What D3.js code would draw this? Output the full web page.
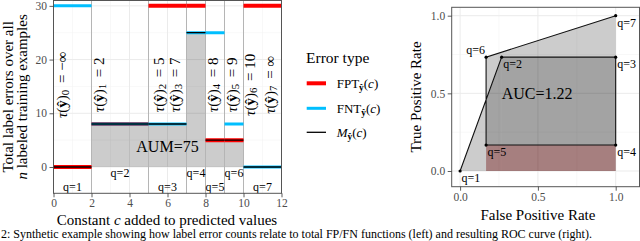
<!DOCTYPE html>
<html>
<head>
<meta charset="utf-8">
<script src="https://cdn.jsdelivr.net/npm/d3@7"></script>
<style>
  body { margin: 0; background: #fff; }
  svg { display: block; font-family: "Liberation Serif", "DejaVu Serif", serif; }
</style>
</head>
<body>
<svg id="chart" width="640" height="241"></svg>
<script>
// left panel: total label errors vs constant c
var intervalStart = [0, 2, 5, 7, 8, 9, 10];
var intervalEnd = [2, 5, 7, 8, 9, 10, 12];
var fptValues = [0, 8, 30, 30, 5, 5, 30];
var fntValues = [30, 8, 8, 25, 25, 8, 0];
var minValues = [0, 8, 8, 25, 5, 5, 0];
var qNames = ['q=1', 'q=2', 'q=3', 'q=4', 'q=5', 'q=6', 'q=7'];
var qLabelLevel = [-3.8, -1.2, -3.8, -1.2, -3.8, -1.2, -3.8];
var thresholds = [2, 5, 7, 8, 9, 10];
var tauValues = ['\u2212\u221e', '2', '5', '7', '8', '9', '10', '\u221e'];
var tauLabelX = [0.45, 2.4, 5.55, 6.4, 8.4, 9.4, 10.35, 11.4];
var tauLabelY = 15.3;
var leftYTicks = [0, 10, 20, 30];
var leftXTicks = [0, 2, 4, 6, 8, 10, 12];
var aumText = 'AUM=75';

// right panel: ROC curve
var fprValues = [0, 0.267, 1, 1, 0.167, 0.167, 1];
var tprValues = [0, 0.733, 0.733, 0.167, 0.167, 0.733, 1];
var rocTicks = [0, 0.5, 1];
var aucText = 'AUC=1.22';

var legendItems = [
    {name: 'FPT', color: '#ff0000', width: 4},
    {name: 'FNT', color: '#00bfff', width: 3},
    {name: 'M', color: '#000000', width: 1.3}
];

var SERIF = '"Liberation Serif", "DejaVu Serif", serif';

var Layout = {
    left: {x0: 53.5, x1: 281.5, y0: 0.5, y1: 193.3},
    right: {x0: 451.7, x1: 639.5, y0: 7.3, y1: 186.7}
};

var svg = d3.select('#chart');
var defs = svg.append('defs');

function addClip(id, box) {
    defs.append('clipPath').attr('id', id)
        .append('rect')
        .attr('x', box.x0).attr('y', box.y0)
        .attr('width', box.x1 - box.x0).attr('height', box.y1 - box.y0);
}
addClip('clip-left', Layout.left);
addClip('clip-right', Layout.right);

function drawGrid(g, box, x, y, xMajor, xMinor, yMajor, yMinor) {
    g.selectAll('.gx-minor').data(xMinor).enter().append('line')
        .attr('x1', x).attr('x2', x).attr('y1', box.y0).attr('y2', box.y1)
        .attr('stroke', '#f4f4f4').attr('stroke-width', 0.6);
    g.selectAll('.gy-minor').data(yMinor).enter().append('line')
        .attr('y1', y).attr('y2', y).attr('x1', box.x0).attr('x2', box.x1)
        .attr('stroke', '#f4f4f4').attr('stroke-width', 0.6);
    g.selectAll('.gx-major').data(xMajor).enter().append('line')
        .attr('x1', x).attr('x2', x).attr('y1', box.y0).attr('y2', box.y1)
        .attr('stroke', '#ebebeb').attr('stroke-width', 1);
    g.selectAll('.gy-major').data(yMajor).enter().append('line')
        .attr('y1', y).attr('y2', y).attr('x1', box.x0).attr('x2', box.x1)
        .attr('stroke', '#ebebeb').attr('stroke-width', 1);
}

function styleAxis(g) {
    g.attr('font-family', SERIF).attr('font-size', 11.5);
    g.select('.domain').remove();
    g.selectAll('.tick line').attr('stroke', '#333').attr('stroke-width', 0.8);
    g.selectAll('.tick text').attr('fill', '#4d4d4d')
        .style('font-family', SERIF)
        .style('font-size', '11.5px');
}

function drawBorder(box) {
    svg.append('rect')
        .attr('x', box.x0).attr('y', box.y0)
        .attr('width', box.x1 - box.x0).attr('height', box.y1 - box.y0)
        .attr('fill', 'none').attr('stroke', '#555').attr('stroke-width', 1);
}

// subscript with bold y-hat, e.g. FPT_yhat(c)
function addHatSub(text, sub) {
    text.append('tspan').attr('font-weight', 'bold').attr('font-size', '72%')
        .attr('dy', 3).text(sub);
}

// ---------- left panel ----------
var L = Layout.left;
var xL = d3.scaleLinear().domain([0, 12]).range([L.x0, L.x1]);
var yL = d3.scaleLinear().domain([-4.9, 31.0]).range([L.y1, L.y0]);

var gl = svg.append('g').attr('clip-path', 'url(#clip-left)');
drawGrid(gl, L, xL, yL, leftXTicks, [1, 3, 5, 7, 9, 11], leftYTicks, [5, 15, 25]);

// shaded area under the min function between first and last threshold
var aumPoints = [];
for (var i = 1; i < intervalStart.length - 1; i++) {
    aumPoints.push([intervalStart[i], minValues[i]]);
    aumPoints.push([intervalEnd[i], minValues[i]]);
}
gl.append('path')
    .datum(aumPoints)
    .attr('d', d3.area().x(d => xL(d[0])).y0(yL(0)).y1(d => yL(d[1])))
    .attr('fill', '#000').attr('fill-opacity', 0.2);

gl.selectAll('.threshold').data(thresholds).enter().append('line')
    .attr('x1', xL).attr('x2', xL).attr('y1', L.y0).attr('y2', L.y1)
    .attr('stroke', '#b5b5b5').attr('stroke-width', 1);

function drawSteps(values, color, width) {
    gl.append('g').selectAll('line').data(values).enter().append('line')
        .attr('x1', (d, i) => xL(intervalStart[i]))
        .attr('x2', (d, i) => xL(intervalEnd[i]))
        .attr('y1', d => yL(d)).attr('y2', d => yL(d))
        .attr('stroke', color).attr('stroke-width', width);
}
drawSteps(fptValues, legendItems[0].color, legendItems[0].width);
drawSteps(fntValues, legendItems[1].color, legendItems[1].width);
drawSteps(minValues, legendItems[2].color, legendItems[2].width);

gl.selectAll('.tau').data(tauValues).enter().append('text')
    .attr('transform', (d, i) => 'translate(' + xL(tauLabelX[i]) + ',' + yL(tauLabelY) + ') rotate(-90)')
    .attr('text-anchor', 'middle')
    .attr('dominant-baseline', 'central')
    .style('font-size', '15px')
    .each(function (d, i) {
        var t = d3.select(this);
        t.append('tspan').attr('font-style', 'italic').text('\u03c4');
        t.append('tspan').text('(');
        t.append('tspan').attr('font-weight', 'bold').text('\u0177');
        t.append('tspan').text(')');
        t.append('tspan').attr('font-size', '72%').attr('dy', 3).text(i);
        t.append('tspan').attr('dy', -3).text(' \u2009= ' + d);
    });

gl.selectAll('.qlab').data(qNames).enter().append('text')
    .attr('x', (d, i) => xL((intervalStart[i] + intervalEnd[i]) / 2))
    .attr('y', (d, i) => yL(qLabelLevel[i]))
    .attr('text-anchor', 'middle')
    .attr('dominant-baseline', 'central')
    .style('font-size', '12px')
    .text(d => d);

gl.append('text')
    .attr('x', xL(6)).attr('y', yL(3.9))
    .attr('text-anchor', 'middle').attr('dominant-baseline', 'central')
    .style('font-size', '16px')
    .text(aumText);

drawBorder(L);

svg.append('g').attr('transform', 'translate(' + L.x0 + ',0)')
    .call(d3.axisLeft(yL).tickValues(leftYTicks).tickSize(4).tickPadding(2.5))
    .call(styleAxis);
svg.append('g').attr('transform', 'translate(0,' + L.y1 + ')')
    .call(d3.axisBottom(xL).tickValues(leftXTicks).tickSize(4).tickPadding(2))
    .call(styleAxis);

var xTitle = svg.append('text')
    .attr('x', (L.x0 + L.x1) / 2 - 0.5).attr('y', 224.5)
    .attr('text-anchor', 'middle').style('font-size', '15px');
xTitle.append('tspan').text('Constant ');
xTitle.append('tspan').attr('font-style', 'italic').text('c');
xTitle.append('tspan').text(' added to predicted values');

svg.append('text')
    .attr('transform', 'translate(13,' + ((L.y0 + L.y1) / 2) + ') rotate(-90)')
    .attr('text-anchor', 'middle').style('font-size', '15px')
    .text('Total label errors over all');
var yTitle2 = svg.append('text')
    .attr('transform', 'translate(26.5,' + ((L.y0 + L.y1) / 2) + ') rotate(-90)')
    .attr('text-anchor', 'middle').style('font-size', '15px');
yTitle2.append('tspan').attr('font-style', 'italic').text('n');
yTitle2.append('tspan').text(' labeled training examples');

// ---------- legend ----------
var legend = svg.append('g').attr('transform', 'translate(306,0)');
legend.append('text').attr('x', 0).attr('y', 63)
    .style('font-size', '15.5px').text('Error type');
var legendY = [83.3, 108.3, 132.3];
legendItems.forEach(function (item, i) {
    legend.append('line')
        .attr('x1', 0.7).attr('x2', 20).attr('y1', legendY[i]).attr('y2', legendY[i])
        .attr('stroke', item.color).attr('stroke-width', item.width);
    var t = legend.append('text').attr('x', 30.7).attr('y', legendY[i] + 4.5)
        .style('font-size', '13px');
    if (item.name === 'M') {
        t.append('tspan').attr('font-style', 'italic').text('M');
    } else {
        t.append('tspan').text(item.name);
    }
    addHatSub(t, '\u0177');
    t.append('tspan').attr('dy', -3).text('(');
    t.append('tspan').attr('font-style', 'italic').text('c');
    t.append('tspan').text(')');
});

// ---------- right panel ----------
var R = Layout.right;
var xR = d3.scaleLinear().domain([-0.054, 1.153]).range([R.x0, R.x1]);
var yR = d3.scaleLinear().domain([-0.101, 1.054]).range([R.y1, R.y0]);

var gr = svg.append('g').attr('clip-path', 'url(#clip-right)');
drawGrid(gr, R, xR, yR, rocTicks, [0.25, 0.75], rocTicks, [0.25, 0.75]);

// area under each segment; backwards segments count negative (red)
for (var j = 0; j < fprValues.length - 1; j++) {
    if (fprValues[j] === fprValues[j + 1]) continue;
    var seg = [[fprValues[j], tprValues[j]], [fprValues[j + 1], tprValues[j + 1]]];
    var backwards = fprValues[j + 1] < fprValues[j];
    gr.append('path')
        .datum(seg)
        .attr('d', d3.area().x(d => xR(d[0])).y0(yR(0)).y1(d => yR(d[1])))
        .attr('fill', backwards ? '#e00000' : '#000')
        .attr('fill-opacity', backwards ? 0.22 : 0.2);
}

var rocPoints = fprValues.map((d, i) => [d, tprValues[i]]);
gr.append('path')
    .datum(rocPoints)
    .attr('d', d3.line().x(d => xR(d[0])).y(d => yR(d[1])))
    .attr('fill', 'none').attr('stroke', '#111').attr('stroke-width', 1.1);

gr.selectAll('.pt').data(rocPoints).enter().append('circle')
    .attr('cx', d => xR(d[0])).attr('cy', d => yR(d[1])).attr('r', 1.6)
    .attr('fill', '#000');

gr.selectAll('.rq').data(qNames).enter().append('text')
    .attr('x', (d, i) => xR(fprValues[i]) + (i === 5 ? -1 : 1.5))
    .attr('y', (d, i) => yR(tprValues[i]) + (i === 5 ? -3.5 : 11))
    .attr('text-anchor', (d, i) => i === 5 ? 'end' : 'start')
    .style('font-size', '12px')
    .text(d => d);

gr.append('text')
    .attr('x', xR(0.495)).attr('y', yR(0.5))
    .attr('text-anchor', 'middle').attr('dominant-baseline', 'central')
    .style('font-size', '16px')
    .text(aucText);

drawBorder(R);

svg.append('g').attr('transform', 'translate(' + R.x0 + ',0)')
    .call(d3.axisLeft(yR).tickValues(rocTicks).tickSize(4).tickPadding(2.5).tickFormat(d3.format('.1f')))
    .call(styleAxis);
svg.append('g').attr('transform', 'translate(0,' + R.y1 + ')')
    .call(d3.axisBottom(xR).tickValues(rocTicks).tickSize(4).tickPadding(2).tickFormat(d3.format('.1f')))
    .call(styleAxis);

svg.append('text')
    .attr('x', xR(0.5)).attr('y', 220)
    .attr('text-anchor', 'middle').style('font-size', '15px')
    .text('False Positive Rate');
svg.append('text')
    .attr('transform', 'translate(421,' + ((R.y0 + R.y1) / 2) + ') rotate(-90)')
    .attr('text-anchor', 'middle').style('font-size', '15px')
    .text('True Positive Rate');

// figure caption along the bottom edge
svg.append('text')
    .attr('x', 1).attr('y', 238.3)
    .style('font-size', '12px')
    .text('2: Synthetic example showing how label error counts relate to total FP/FN functions (left) and resulting ROC curve (right).');
</script>
</body>
</html>
